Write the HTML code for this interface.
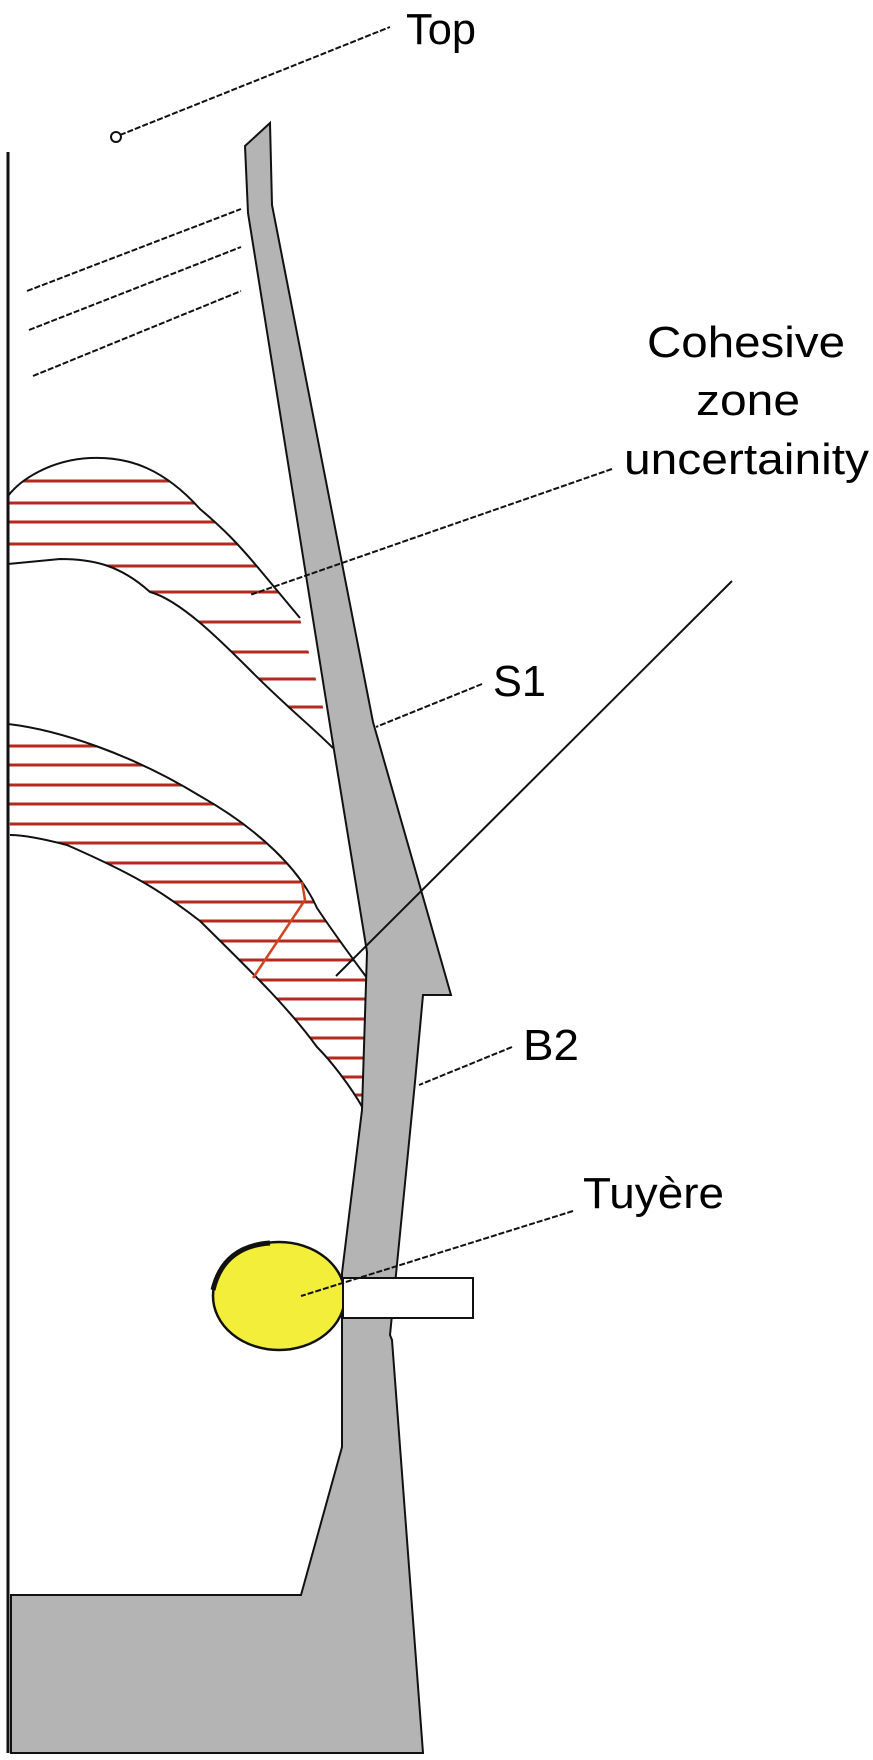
<!DOCTYPE html>
<html><head><meta charset="utf-8"><style>html,body{margin:0;padding:0;background:#fff}svg{display:block}</style></head>
<body>
<svg width="873" height="1760" viewBox="0 0 873 1760" xmlns="http://www.w3.org/2000/svg" font-family="Liberation Sans, sans-serif">
<rect width="873" height="1760" fill="#fff"/>
<defs>
<clipPath id="c1"><path d="M8,496 C20,480 50,460 90,458 C130,456 165,470 200,509 C225,530 240,546 260,570 L300,618 C305,640 312,660 333,748 C310,725 290,710 250,670 C220,640 180,600 150,592 C120,565 93,559 60,559 L8,564 Z"/></clipPath>
<clipPath id="c2"><path d="M8,724 C60,730 133,755 200,796 C260,830 300,870 317,908 C335,935 350,955 367,978 L366,1110 C350,1085 330,1060 317,1047 C290,1010 260,980 200,921 C160,890 133,874 67,845 C40,838 20,835 10,835 Z"/></clipPath>
</defs>
<g clip-path="url(#c1)" stroke="#b52a1e" stroke-width="3">
<line x1="0" y1="481" x2="400" y2="481"/><line x1="0" y1="503" x2="400" y2="503"/><line x1="0" y1="522" x2="400" y2="522"/><line x1="0" y1="544" x2="400" y2="544"/><line x1="0" y1="566" x2="400" y2="566"/><line x1="0" y1="592" x2="400" y2="592"/><line x1="0" y1="622" x2="400" y2="622"/><line x1="0" y1="652" x2="400" y2="652"/><line x1="0" y1="679" x2="400" y2="679"/><line x1="0" y1="707" x2="400" y2="707"/>
</g>
<g clip-path="url(#c2)" stroke="#b52a1e" stroke-width="3">
<line x1="0" y1="746" x2="400" y2="746"/><line x1="0" y1="765" x2="400" y2="765"/><line x1="0" y1="785" x2="400" y2="785"/><line x1="0" y1="804" x2="400" y2="804"/><line x1="0" y1="824" x2="400" y2="824"/><line x1="0" y1="843" x2="400" y2="843"/><line x1="0" y1="863" x2="400" y2="863"/><line x1="0" y1="882" x2="400" y2="882"/><line x1="0" y1="902" x2="400" y2="902"/><line x1="0" y1="921" x2="400" y2="921"/><line x1="0" y1="941" x2="400" y2="941"/><line x1="0" y1="960" x2="400" y2="960"/><line x1="0" y1="980" x2="400" y2="980"/><line x1="0" y1="999" x2="400" y2="999"/><line x1="0" y1="1019" x2="400" y2="1019"/><line x1="0" y1="1038" x2="400" y2="1038"/><line x1="0" y1="1058" x2="400" y2="1058"/><line x1="0" y1="1077" x2="400" y2="1077"/><line x1="0" y1="1095" x2="400" y2="1095"/>
</g>
<g fill="none" stroke="#111" stroke-width="2">
<path d="M8,496 C20,480 50,460 90,458 C130,456 165,470 200,509 C225,530 240,546 260,570 L300,618"/>
<path d="M8,564 L60,559 C93,559 120,565 150,592 C180,600 220,640 250,670 C290,710 310,725 333,748"/>
<path d="M8,724 C60,730 133,755 200,796 C260,830 300,870 317,908 C335,935 350,955 367,978"/>
<path d="M10,835 C20,835 40,838 67,845 C133,874 160,890 200,921 C260,980 290,1010 317,1047 C330,1060 350,1085 364,1110"/>
</g>
<polyline points="302,882 305,900 253,978" fill="none" stroke="#d0451f" stroke-width="2.5"/>
<path d="M245,146 L270,123 L272,205 L373,722 L451,995 L423,995 L415,1082 L390,1335 L392,1340 L423,1753 L11,1753 L11,1595 L301,1595 L342,1447 L342,1273 L362,1110 L367,952 L333,744 L248,213 Z" fill="#b4b4b4" stroke="#111" stroke-width="2"/>
<line x1="8" y1="152" x2="8" y2="1753" stroke="#111" stroke-width="3"/>
<ellipse cx="279" cy="1296" rx="66" ry="54" fill="#f2ee3a" stroke="#111" stroke-width="2.5"/>
<path d="M213,1290 C220,1260 240,1245 270,1243" fill="none" stroke="#111" stroke-width="5"/>
<rect x="343" y="1278" width="130" height="40" fill="#fff" stroke="#111" stroke-width="2"/>
<g stroke="#111" stroke-width="2" fill="none" stroke-dasharray="6,2">
<line x1="27" y1="291" x2="241" y2="209"/>
<line x1="29" y1="330" x2="241" y2="247"/>
<line x1="33" y1="376" x2="241" y2="291"/>
<line x1="120" y1="135" x2="390" y2="27"/>
<line x1="612" y1="469" x2="250" y2="595"/>
<line x1="482" y1="684" x2="376" y2="727"/>
<line x1="512" y1="1047" x2="419" y2="1085"/>
<line x1="573" y1="1211" x2="301" y2="1296"/>
</g>
<circle cx="116" cy="137" r="5" fill="#fff" stroke="#111" stroke-width="2"/>
<line x1="732" y1="581" x2="336" y2="976" stroke="#111" stroke-width="2"/>
<g fill="#000" font-size="44">
<text x="406" y="44" textLength="70" lengthAdjust="spacingAndGlyphs">Top</text>
<text x="647" y="357" textLength="198" lengthAdjust="spacingAndGlyphs">Cohesive</text>
<text x="696" y="415" textLength="104" lengthAdjust="spacingAndGlyphs">zone</text>
<text x="624" y="474" textLength="245" lengthAdjust="spacingAndGlyphs">uncertainity</text>
<text x="493" y="696" textLength="53" lengthAdjust="spacingAndGlyphs">S1</text>
<text x="523" y="1060" textLength="56" lengthAdjust="spacingAndGlyphs">B2</text>
<text x="583" y="1208" textLength="141" lengthAdjust="spacingAndGlyphs">Tuyère</text>
</g>
</svg>
</body></html>
